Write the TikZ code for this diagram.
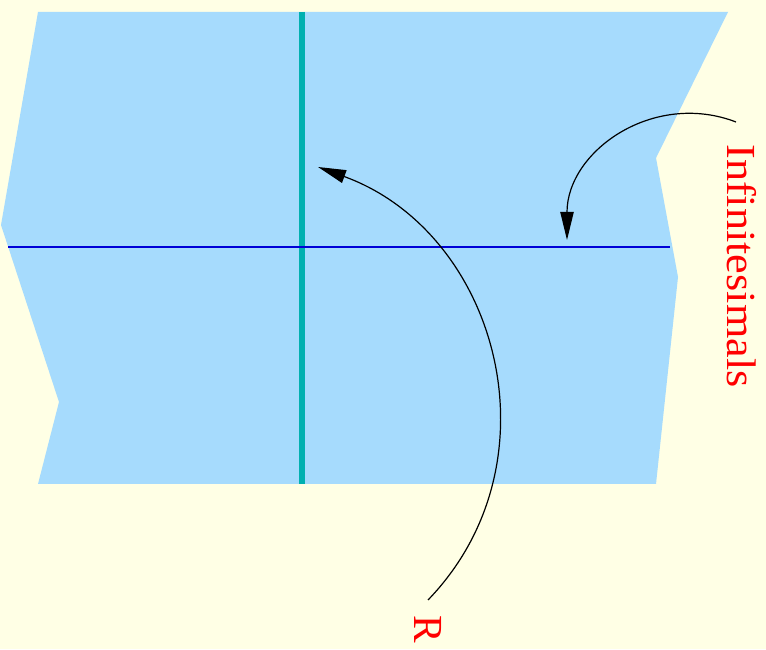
\documentclass[tikz,border=0pt]{standalone}
\usepackage{fontspec}
\setmainfont{Liberation Serif}
\usetikzlibrary{arrows.meta, positioning}

\definecolor{paper}{RGB}{255,255,229}
\definecolor{plane}{RGB}{166,219,253}
\definecolor{realaxis}{RGB}{0,176,176}
\definecolor{infaxis}{RGB}{0,0,215}

\tikzset{
  label/.style={text=red, font=\fontsize{31}{31}\selectfont, inner sep=0pt, rotate=-90},
  pointer/.style={->, line width=0.9pt},
}

\begin{document}
\begin{tikzpicture}[x=0.75pt, y=0.75pt, >={Triangle[length=21pt,width=10pt]}]

% background and bounding box
\fill[paper] (0,0) rectangle (766,649);
\useasboundingbox (0,0) rectangle (766,649);

% --- torn plane ---
\fill[plane] (38,637) -- (728,637) -- (656,491) -- (678,372) -- (656,165)
  -- (38,165) -- (59,247) -- (1,424) -- cycle;

% --- axes ---
\draw[realaxis, line width=4.5pt] (302,637) -- (302,165);
\draw[infaxis, line width=1.1pt] (8,402) -- (670,402);

% --- labels ---
\node[label, xscale=1.07] (inf) at (742,383) {Infinitesimals};
\node[label] (R) at (428,20) {R};

% --- pointers ---
\coordinate (infstart) at (736,527);
\coordinate (infend) at (567,409);
\coordinate (rstart) at (428,49);
\coordinate (rend) at (318,482);

\draw[pointer] (infstart) to[out=159, in=90, looseness=1.1] (infend);
\draw[pointer] (rstart) to[out=46, in=-20, looseness=1.1] (rend);

\end{tikzpicture}
\end{document}
